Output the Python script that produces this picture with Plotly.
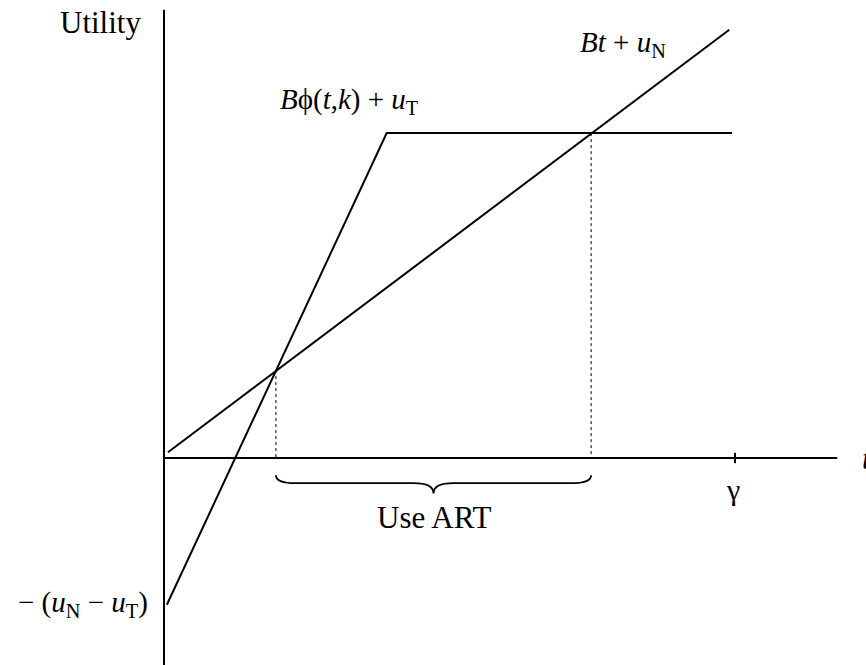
import plotly.graph_objects as go

# Straight utility line  B t + u_N
t_linear = [0.07, 9.90]
u_linear = [0.10, 7.50]

# Kinked utility line  B phi(t,k) + u_T  (rises until k, then flat)
t_kinked = [0.05, 3.90, 9.95]
u_kinked = [-2.57, 5.69, 5.69]

# Crossing points of the two lines
t_cross = [1.96, 7.48]
u_cross = [1.54, 5.69]

gamma = 10.0
x_axis_end = 11.79
y_axis_top = 7.85
y_axis_bottom = -3.63

fig = go.Figure()

fig.add_trace(go.Scatter(x=t_linear, y=u_linear, mode="lines",
                         line=dict(color="black", width=2), hoverinfo="skip"))
fig.add_trace(go.Scatter(x=t_kinked, y=u_kinked, mode="lines",
                         line=dict(color="black", width=2), hoverinfo="skip"))

# Dotted drops from the crossings to the t axis
for tc, uc in zip(t_cross, u_cross):
    fig.add_trace(go.Scatter(x=[tc, tc], y=[uc, 0], mode="lines",
                             line=dict(color="black", width=1, dash="dot"),
                             hoverinfo="skip"))

# Axes
fig.add_shape(type="line", x0=0, x1=x_axis_end, y0=0, y1=0,
              line=dict(color="black", width=2))
fig.add_shape(type="line", x0=0, x1=0, y0=y_axis_bottom, y1=y_axis_top,
              line=dict(color="black", width=2))
fig.add_shape(type="line", x0=gamma, x1=gamma, y0=-0.09, y1=0.09,
              line=dict(color="black", width=2))

# Curly brace under the ART interval
left, right = t_cross
mid = (left + right) / 2
top, flat, tip = -0.30, -0.44, -0.62
r = 0.35
path = (f"M {left},{top} Q {left},{flat} {left + r},{flat} "
        f"L {mid - r},{flat} Q {mid},{flat} {mid},{tip} "
        f"Q {mid},{flat} {mid + r},{flat} "
        f"L {right - r},{flat} Q {right},{flat} {right},{top}")
fig.add_shape(type="path", path=path, line=dict(color="black", width=1.8))

serif = "Times New Roman"


def label(x, y, text, size=28, xanchor="center"):
    fig.add_annotation(x=x, y=y, text=text, showarrow=False, xanchor=xanchor,
                       yanchor="middle", font=dict(family=serif, size=size, color="black"))


label(-0.37, 7.62, "Utility", size=31, xanchor="right")
label(2.0, 6.25, "<i>B</i>ϕ(<i>t</i>,<i>k</i>) + <i>u</i><sub>T</sub>", size=29, xanchor="left")
label(7.25, 7.25, "<i>B</i><i>t</i> + <i>u</i><sub>N</sub>", size=29, xanchor="left")
label(-0.25, -2.55, "− (<i>u</i><sub>N</sub> − <i>u</i><sub>T</sub>)", size=29, xanchor="right")
label(gamma - 0.03, -0.56, "γ", size=30)
label(mid, -1.05, "Use ART", size=31)
label(12.19, 0.0, "<i>t</i>", size=31, xanchor="left")

fig.update_layout(
    width=866, height=665,
    margin=dict(l=0, r=0, t=0, b=0),
    plot_bgcolor="white", paper_bgcolor="white",
    showlegend=False,
    font=dict(family=serif),
    xaxis=dict(range=[-2.872, 12.294], visible=False, fixedrange=True),
    yaxis=dict(range=[-3.625, 8.021], visible=False, fixedrange=True),
)

fig.write_html("out.html")
